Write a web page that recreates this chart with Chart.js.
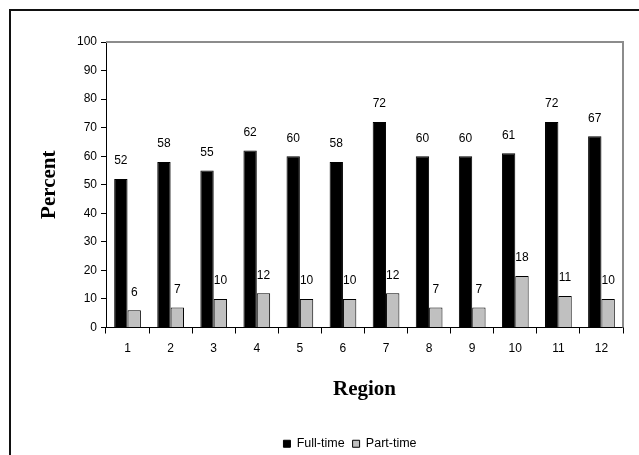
<!DOCTYPE html>
<html>
<head>
<meta charset="utf-8">
<script src="https://cdn.jsdelivr.net/npm/chart.js@4/dist/chart.umd.min.js"></script>
<style>
  body { margin: 0; background: #fff; }
  canvas { display: block; }
</style>
</head>
<body>
<canvas id="myChart" width="639" height="455"></canvas>
<script>
const regions = ['1', '2', '3', '4', '5', '6', '7', '8', '9', '10', '11', '12'];
const fullTime = [52, 58, 55, 62, 60, 58, 72, 60, 60, 61, 72, 67];
const partTime = [6, 7, 10, 12, 10, 10, 12, 7, 7, 18, 11, 10];
const yTicks = { min: 0, max: 100, step: 10 };

// outer frame + grey plot border on top/right
const framePlugin = {
  id: 'frame',
  beforeDraw(chart) {
    const ctx = chart.ctx;
    ctx.save();
    ctx.fillStyle = '#fff';
    ctx.fillRect(0, 0, chart.width, chart.height);
    ctx.strokeStyle = '#111';
    ctx.lineWidth = 2;
    ctx.beginPath();
    ctx.moveTo(10, chart.height + 2);
    ctx.lineTo(10, 10);
    ctx.lineTo(chart.width + 2, 10);
    ctx.stroke();
    ctx.restore();
  },
  afterDraw(chart) {
    const a = chart.chartArea;
    const ctx = chart.ctx;
    ctx.save();
    ctx.strokeStyle = '#8c8c8c';
    ctx.lineWidth = 2;
    ctx.beginPath();
    ctx.moveTo(a.left, a.top);
    ctx.lineTo(a.right, a.top);
    ctx.lineTo(a.right, a.bottom);
    ctx.stroke();
    ctx.restore();
  }
};

// value labels above every bar
const valueLabels = {
  id: 'valueLabels',
  afterDatasetsDraw(chart) {
    const ctx = chart.ctx;
    ctx.save();
    ctx.font = '12px "Liberation Sans", Arial, sans-serif';
    ctx.fillStyle = '#000';
    ctx.textAlign = 'center';
    ctx.textBaseline = 'middle';
    chart.data.datasets.forEach((ds, i) => {
      chart.getDatasetMeta(i).data.forEach((bar, j) => {
        ctx.fillText(ds.data[j], bar.x, bar.y - 18);
      });
    });
    ctx.restore();
  }
};

const ctx = document.getElementById('myChart').getContext('2d');
new Chart(ctx, {
  type: 'bar',
  data: {
    labels: regions,
    datasets: [
      {
        label: 'Full-time',
        data: fullTime,
        backgroundColor: '#000',
        borderColor: '#000',
        borderWidth: 1,
        categoryPercentage: 0.62,
        barPercentage: 1.0
      },
      {
        label: 'Part-time',
        data: partTime,
        backgroundColor: '#c0c0c0',
        borderColor: '#000',
        borderWidth: 1,
        categoryPercentage: 0.62,
        barPercentage: 1.0
      }
    ]
  },
  options: {
    responsive: false,
    animation: false,
    layout: { padding: { left: 77, top: 42, right: 16, bottom: -5 } },
    plugins: {
      tooltip: { enabled: false },
      legend: {
        position: 'bottom',
        labels: {
          boxWidth: 7,
          boxHeight: 7,
          padding: 8,
          color: '#000',
          font: { family: '"Liberation Sans", Arial, sans-serif', size: 12.5 }
        }
      }
    },
    scales: {
      x: {
        afterFit(scale) { scale.height = 102; },
        grid: {
          offset: true,
          drawOnChartArea: false,
          tickLength: 6,
          color: '#000'
        },
        border: { color: '#000', width: 1 },
        ticks: {
          color: '#000',
          padding: 8,
          font: { family: '"Liberation Sans", Arial, sans-serif', size: 12 }
        },
        title: {
          display: true,
          text: 'Region',
          color: '#000',
          padding: { top: 0, bottom: 27 },
          font: { family: '"Liberation Serif", "Times New Roman", serif', size: 21, weight: 'bold' }
        }
      },
      y: {
        min: yTicks.min,
        max: yTicks.max,
        afterFit(scale) { scale.width = 29; },
        grid: {
          drawOnChartArea: false,
          tickLength: 5,
          color: '#000'
        },
        border: { color: '#000', width: 1 },
        ticks: {
          stepSize: yTicks.step,
          color: '#000',
          padding: 4,
          font: { family: '"Liberation Sans", Arial, sans-serif', size: 12 }
        },
        title: {
          display: true,
          text: 'Percent',
          color: '#000',
          padding: { top: -40, bottom: 0 },
          font: { family: '"Liberation Serif", "Times New Roman", serif', size: 21, weight: 'bold' }
        }
      }
    }
  },
  plugins: [framePlugin, valueLabels]
});
</script>
</body>
</html>
